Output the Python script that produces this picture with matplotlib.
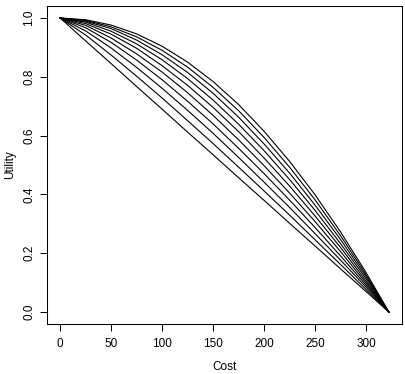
import matplotlib
matplotlib.use("Agg")
import matplotlib.pyplot as plt

plt.rcParams['font.family'] = ['Liberation Sans', 'DejaVu Sans']

# Cost values at which the curves were read
cost = [0, 25, 50, 75, 100, 125, 150, 175, 200, 225, 250, 275, 300, 322.5]

# Utility curves, from the straightest (lowest) to the most bowed (highest)
utility_1 = [1, 0.922, 0.845, 0.767, 0.690, 0.612, 0.535, 0.457, 0.380, 0.302, 0.225, 0.147, 0.070, 0]
utility_2 = [1, 0.942, 0.874, 0.802, 0.728, 0.651, 0.573, 0.493, 0.412, 0.330, 0.246, 0.162, 0.077, 0]
utility_3 = [1, 0.956, 0.898, 0.832, 0.761, 0.686, 0.608, 0.526, 0.442, 0.356, 0.267, 0.177, 0.085, 0]
utility_4 = [1, 0.967, 0.917, 0.857, 0.790, 0.717, 0.640, 0.557, 0.471, 0.381, 0.288, 0.191, 0.092, 0]
utility_5 = [1, 0.975, 0.932, 0.878, 0.816, 0.746, 0.669, 0.586, 0.498, 0.405, 0.308, 0.206, 0.099, 0]
utility_6 = [1, 0.981, 0.945, 0.897, 0.838, 0.771, 0.696, 0.614, 0.524, 0.429, 0.327, 0.220, 0.106, 0]
utility_7 = [1, 0.986, 0.955, 0.912, 0.858, 0.794, 0.721, 0.639, 0.549, 0.451, 0.346, 0.233, 0.114, 0]
utility_8 = [1, 0.989, 0.964, 0.925, 0.875, 0.815, 0.744, 0.663, 0.572, 0.473, 0.364, 0.247, 0.121, 0]
utility_9 = [1, 0.992, 0.970, 0.936, 0.890, 0.833, 0.764, 0.685, 0.594, 0.493, 0.382, 0.260, 0.128, 0]
utility_10 = [1, 0.994, 0.976, 0.946, 0.904, 0.850, 0.784, 0.706, 0.615, 0.513, 0.399, 0.273, 0.135, 0]

curves = [utility_1, utility_2, utility_3, utility_4, utility_5,
          utility_6, utility_7, utility_8, utility_9, utility_10]

x_ticks = [0, 50, 100, 150, 200, 250, 300]
y_ticks = [0, 0.2, 0.4, 0.6, 0.8, 1.0]
y_tick_labels = ['0.0', '0.2', '0.4', '0.6', '0.8', '1.0']

fig = plt.figure(figsize=(4.06, 3.74), dpi=100)
ax = fig.add_axes([47/406, 1-324/374, (402-47)/406, (324-6)/374])
for u in curves:
    ax.plot(cost, u, color='black', lw=0.8, solid_joinstyle='round')
ax.set_xlim(-12.9, 335.4)
ax.set_ylim(-0.0408, 1.0408)
ax.set_xticks(x_ticks)
ax.set_yticks(y_ticks)
ax.set_yticklabels(y_tick_labels, rotation=90, va='center')
ax.tick_params(direction='out', length=5, width=0.75, labelsize=8.5)
ax.tick_params(axis='x', pad=5)
ax.tick_params(axis='y', pad=3.5)
for s in ax.spines.values():
    s.set_linewidth(0.75)
ax.set_xlabel('Cost', fontsize=8.5, labelpad=8)
ax.set_ylabel('Utility', fontsize=8.5, labelpad=5)
fig.savefig('out.png', dpi=100)
